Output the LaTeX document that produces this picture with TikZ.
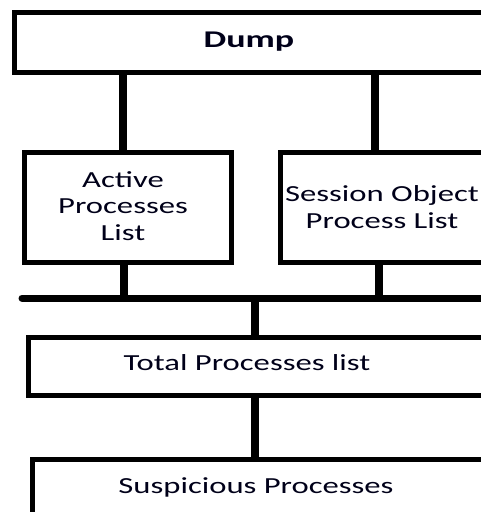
\documentclass[tikz,border=0pt]{standalone}
\usepackage{fontspec}
\setmainfont{Carlito}
\newfontfamily\widefont[FakeStretch=1.42]{Carlito}
\newfontfamily\widebold[FakeStretch=1.5]{Carlito Bold}
\begin{document}
\begin{tikzpicture}[x=1pt,y=-1pt,
  box/.style={draw=black, line width=4.5pt, fill=white, anchor=north west, inner sep=0pt},
  lbl/.style={font=\widefont\fontsize{23}{26.5}\selectfont, align=center, inner sep=0pt, text=black!90!blue},
  conn/.style={draw=black, line width=7.5pt},
  bus/.style={draw=black, line width=7pt, line cap=round}]
\useasboundingbox (0,0) rectangle (481,512);
\clip (0,0) rectangle (481,512);
% boxes
\node[box, minimum width=480pt, minimum height=60pt] (dump) at (12,10) {};
\node[box, minimum width=207pt, minimum height=110pt] (act) at (22,150) {};
\node[box, minimum width=220pt, minimum height=110pt] (ses) at (278,150) {};
\node[box, minimum width=480pt, minimum height=58pt] (tot) at (26,335) {};
\node[box, minimum width=480pt, minimum height=80pt] (sus) at (30,457) {};
% labels
\node[lbl, font=\widebold\fontsize{24}{27}\selectfont] (dumpt) at (249,42) {Dump};
\node[lbl] (actt) at (123,206) {Active\\Processes\\List};
\node[lbl] (sest) at (382,207) {Session Object\\Process List};
\node[lbl] (tott) at (247,363) {Total Processes list};
\node[lbl] (sust) at (256,487) {Suspicious Processes};
% connector positions
\coordinate (c1) at (123,0);
\coordinate (c2) at (375,0);
\coordinate (c3) at (124,0);
\coordinate (c4) at (379,0);
\coordinate (c5) at (255,0);
\coordinate (busl) at (22,298);
\coordinate (busr) at (490,298);
% connectors
\draw[conn] (dump.south -| c1) -- (act.north -| c1);
\draw[conn] (dump.south -| c2) -- (ses.north -| c2);
\draw[conn] (act.south -| c3) -- (busl -| c3);
\draw[conn] (ses.south -| c4) -- (busl -| c4);
\draw[bus] (busl) -- (busr);
\draw[conn] (busl -| c5) -- (tot.north -| c5);
\draw[conn] (tot.south -| c5) -- (sus.north -| c5);
\end{tikzpicture}
\end{document}
